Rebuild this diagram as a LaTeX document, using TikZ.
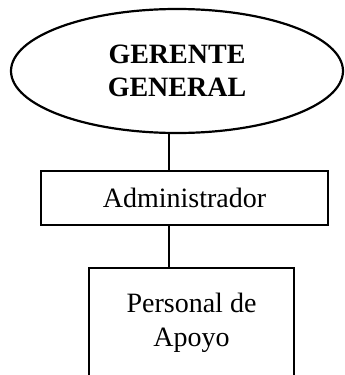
\documentclass[tikz,border=0pt]{standalone}
\usepackage{fontspec}
\setmainfont{Liberation Serif}
\usetikzlibrary{shapes.geometric, positioning}

\begin{document}
\begin{tikzpicture}[
    node distance=19pt, outer sep=0pt,
    boss/.style={ellipse, draw, line width=1.1pt, minimum width=166pt, minimum height=62pt, inner sep=0pt, align=center, font=\fontsize{14}{16.3}\selectfont\bfseries},
    box/.style={rectangle, draw, line width=1.2pt, inner sep=0pt, align=center, font=\fontsize{14}{17}\selectfont},
    link/.style={line width=1.1pt}
]
    \useasboundingbox (0,0) rectangle (172pt,-187.5pt);
    \node[boss] (gerente) at (88.5pt,-35.5pt) {GERENTE\\GENERAL};
    \node[box, minimum width=143.5pt, minimum height=27pt, below=19pt of gerente, xshift=3.75pt] (admin) {Administrador};
    \node[box, minimum width=102.5pt, minimum height=55pt, below=21.5pt of admin, xshift=3.5pt] (personal) {Personal de\\Apoyo};

    \draw[link] ([xshift=-4pt]gerente.south) -- ([xshift=-7.75pt]admin.north);
    \draw[link] ([xshift=-7.75pt]admin.south) -- ([xshift=-11.25pt]personal.north);
\end{tikzpicture}
\end{document}
